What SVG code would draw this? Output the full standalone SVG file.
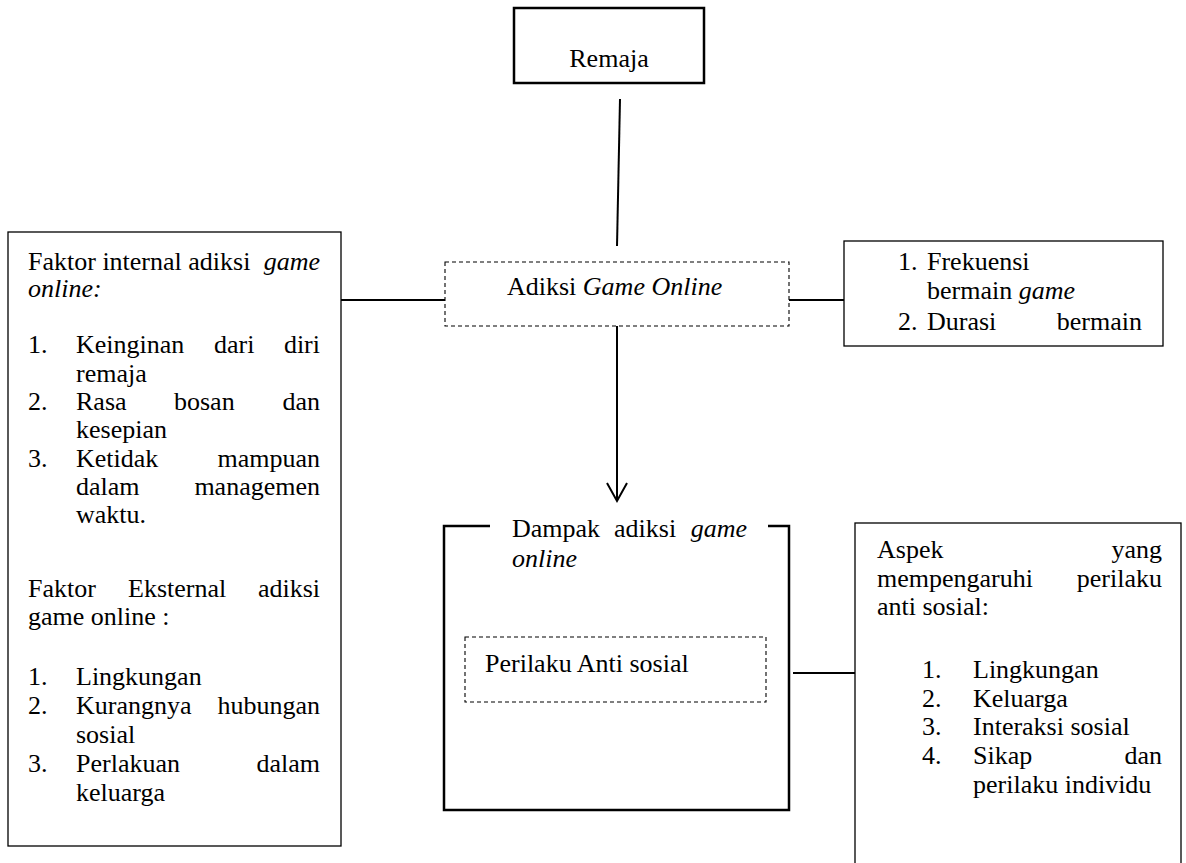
<svg xmlns="http://www.w3.org/2000/svg" width="1186" height="863" viewBox="0 0 1186 863">
<style>
text{font-family:"Liberation Serif","Times New Roman",serif;font-size:26px;fill:#000}
.i{font-style:italic}
.e{text-anchor:end}
.m{text-anchor:middle}
.box{fill:#fff;stroke:#000;stroke-width:1.3}
.thick{fill:none;stroke:#000;stroke-width:2.5}
.dash{fill:none;stroke:#000;stroke-width:1.1;stroke-dasharray:4 3}
.con{fill:none;stroke:#000;stroke-width:2}
</style>
<rect width="1186" height="863" fill="#fff"/>
<g id="connectors">
<path class="con" d="M620 99 L617 246"/>
<path class="con" d="M341 300 H445"/>
<path class="con" d="M789 300 H846"/>
<path class="con" d="M617 326 V501"/>
<path class="con" d="M607 483 L617 501 L627 483"/>
<path class="con" d="M793 673 H855"/>
</g>
<g id="remaja">
<rect class="thick" x="514" y="8" width="190" height="75" fill="#fff"/>
<text class="m" x="609" y="67">Remaja</text>
</g>
<g id="adiksi">
<rect class="dash" x="445" y="262" width="344" height="64"/>
<text x="507" y="295">Adiksi <tspan class="i">Game Online</tspan></text>
</g>
<g id="faktor">
<rect class="box" x="8" y="232" width="333" height="614"/>
<text x="28" y="270">Faktor internal adiksi</text><text class="i e" x="320" y="270">game</text>
<text class="i" x="28" y="297">online:</text>
<text x="28" y="353">1.</text><text x="76" y="353">Keinginan</text><text x="214" y="353">dari</text><text class="e" x="320" y="353">diri</text>
<text x="76" y="382">remaja</text>
<text x="28" y="410">2.</text><text x="76" y="410">Rasa</text><text x="174" y="410">bosan</text><text class="e" x="320" y="410">dan</text>
<text x="76" y="438">kesepian</text>
<text x="28" y="467">3.</text><text x="76" y="467">Ketidak</text><text class="e" x="320" y="467">mampuan</text>
<text x="76" y="495">dalam</text><text class="e" x="320" y="495">managemen</text>
<text x="76" y="523">waktu.</text>
<text x="28" y="597">Faktor</text><text x="128" y="597">Eksternal</text><text class="e" x="320" y="597">adiksi</text>
<text x="28" y="625">game online :</text>
<text x="28" y="685">1.</text><text x="76" y="685">Lingkungan</text>
<text x="28" y="714">2.</text><text x="76" y="714">Kurangnya</text><text class="e" x="320" y="714">hubungan</text>
<text x="76" y="743">sosial</text>
<text x="28" y="772">3.</text><text x="76" y="772">Perlakuan</text><text class="e" x="320" y="772">dalam</text>
<text x="76" y="801">keluarga</text>
</g>
<g id="indikator">
<rect class="box" x="844" y="241" width="319" height="105"/>
<text x="898" y="270">1.</text><text x="927" y="270">Frekuensi</text>
<text x="927" y="299">bermain <tspan class="i">game</tspan></text>
<text x="898" y="330">2.</text><text x="927" y="330">Durasi</text><text class="e" x="1142" y="330">bermain</text>
</g>
<g id="dampak">
<path class="thick" d="M490 526 H444 V810 H789 V526 H768"/>
<text x="512" y="537">Dampak</text><text x="614" y="537">adiksi</text><text class="i e" x="747" y="537">game</text>
<text class="i" x="512" y="567">online</text>
</g>
<g id="perilaku">
<rect class="dash" x="465" y="637" width="301" height="65"/>
<text x="485" y="672">Perilaku Anti sosial</text>
</g>
<g id="aspek">
<rect class="box" x="855" y="523" width="326" height="350"/>
<text x="877" y="558">Aspek</text><text class="e" x="1162" y="558">yang</text>
<text x="877" y="587">mempengaruhi</text><text class="e" x="1162" y="587">perilaku</text>
<text x="877" y="615">anti sosial:</text>
<text x="922" y="678">1.</text><text x="973" y="678">Lingkungan</text>
<text x="922" y="707">2.</text><text x="973" y="707">Keluarga</text>
<text x="922" y="735">3.</text><text x="973" y="735">Interaksi sosial</text>
<text x="922" y="764">4.</text><text x="973" y="764">Sikap</text><text class="e" x="1162" y="764">dan</text>
<text x="973" y="793">perilaku individu</text>
</g>
</svg>
